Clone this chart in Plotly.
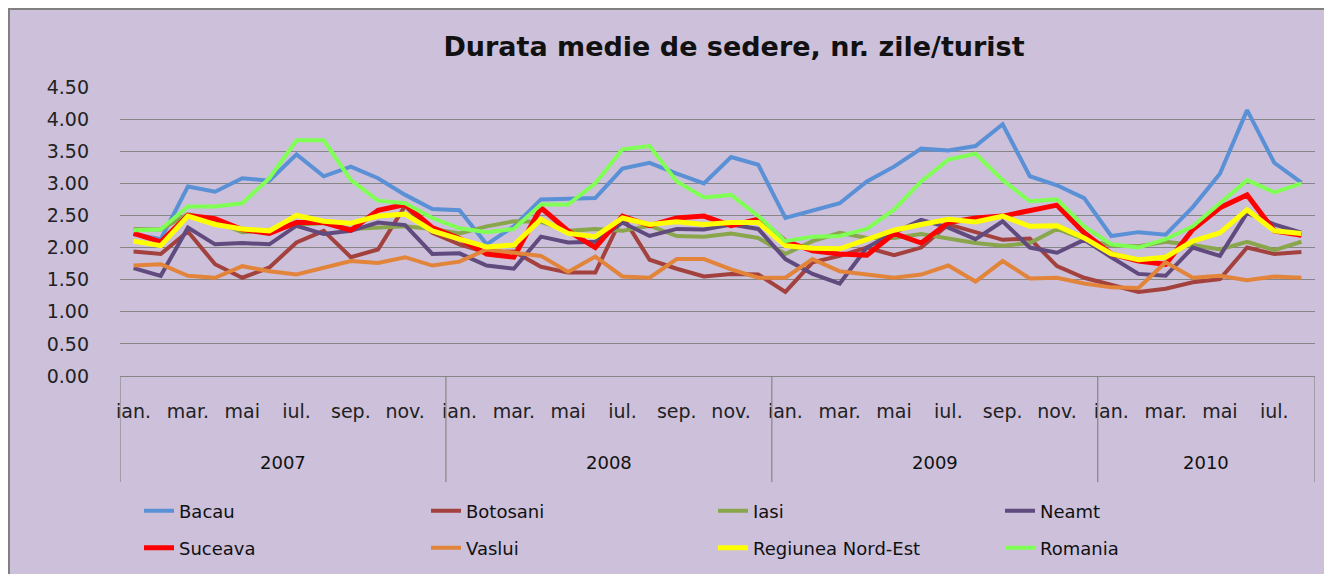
import plotly.graph_objects as go

# ---- data ----
month_names = ["ian.", "feb.", "mar.", "apr.", "mai", "iun.", "iul.", "aug.",
               "sep.", "oct.", "nov.", "dec."]
years = ["2007", "2008", "2009", "2010"]
months_per_year = [12, 12, 12, 8]

bacau = [2.21, 2.13, 2.95, 2.87, 3.08, 3.04, 3.45, 3.11, 3.26, 3.08, 2.82, 2.60,
         2.58, 2.05, 2.33, 2.75, 2.76, 2.77, 3.23, 3.32, 3.15, 3.00, 3.41, 3.29,
         2.46, 2.58, 2.69, 3.03, 3.26, 3.54, 3.51, 3.58, 3.92, 3.11, 2.97, 2.77,
         2.18, 2.24, 2.20, 2.63, 3.15, 4.14, 3.32, 3.01]
botosani = [1.94, 1.90, 2.25, 1.74, 1.53, 1.69, 2.08, 2.26, 1.85, 1.97, 2.65, 2.23,
            2.05, 1.92, 1.94, 1.70, 1.61, 1.61, 2.49, 1.81, 1.67, 1.55, 1.59, 1.58,
            1.31, 1.77, 1.87, 2.00, 1.88, 2.00, 2.36, 2.24, 2.12, 2.14, 1.71, 1.53,
            1.42, 1.31, 1.36, 1.46, 1.51, 2.00, 1.90, 1.93]
iasi = [2.29, 2.28, 2.52, 2.41, 2.24, 2.27, 2.36, 2.38, 2.29, 2.31, 2.33, 2.29,
        2.22, 2.33, 2.41, 2.40, 2.26, 2.29, 2.26, 2.34, 2.18, 2.17, 2.22, 2.15,
        1.90, 2.10, 2.23, 2.15, 2.15, 2.21, 2.14, 2.07, 2.03, 2.07, 2.29, 2.13,
        2.03, 2.02, 2.09, 2.04, 1.97, 2.09, 1.96, 2.09]
neamt = [1.68, 1.56, 2.31, 2.05, 2.07, 2.05, 2.34, 2.21, 2.26, 2.39, 2.35, 1.90,
         1.91, 1.72, 1.67, 2.17, 2.08, 2.09, 2.39, 2.18, 2.29, 2.28, 2.36, 2.29,
         1.82, 1.59, 1.44, 2.00, 2.23, 2.43, 2.31, 2.13, 2.41, 2.00, 1.92, 2.12,
         1.85, 1.59, 1.56, 2.00, 1.87, 2.54, 2.36, 2.23]
suceava = [2.22, 2.09, 2.50, 2.45, 2.28, 2.22, 2.39, 2.39, 2.27, 2.58, 2.67, 2.31,
           2.14, 1.90, 1.85, 2.62, 2.26, 2.00, 2.49, 2.34, 2.46, 2.49, 2.34, 2.44,
           2.10, 1.95, 1.90, 1.88, 2.22, 2.07, 2.39, 2.46, 2.49, 2.58, 2.66, 2.23,
           1.90, 1.79, 1.74, 2.28, 2.62, 2.82, 2.26, 2.19]
vaslui = [1.72, 1.74, 1.56, 1.53, 1.71, 1.63, 1.58, 1.69, 1.79, 1.76, 1.85, 1.72,
          1.78, 1.97, 1.92, 1.87, 1.62, 1.86, 1.55, 1.53, 1.82, 1.82, 1.66, 1.53,
          1.53, 1.82, 1.63, 1.58, 1.53, 1.58, 1.72, 1.47, 1.79, 1.52, 1.53, 1.44,
          1.38, 1.37, 1.77, 1.53, 1.56, 1.49, 1.55, 1.53]
regiunea = [2.10, 2.03, 2.49, 2.36, 2.29, 2.26, 2.50, 2.41, 2.38, 2.49, 2.52, 2.26,
            2.13, 2.01, 2.04, 2.44, 2.22, 2.17, 2.46, 2.36, 2.40, 2.36, 2.39, 2.39,
            2.03, 1.99, 1.98, 2.13, 2.27, 2.36, 2.44, 2.40, 2.49, 2.33, 2.34, 2.15,
            1.90, 1.81, 1.85, 2.10, 2.23, 2.59, 2.26, 2.22]
romania = [2.27, 2.28, 2.64, 2.64, 2.69, 3.08, 3.67, 3.67, 3.05, 2.73, 2.69, 2.46,
           2.30, 2.24, 2.29, 2.67, 2.67, 3.00, 3.53, 3.58, 3.03, 2.78, 2.82, 2.49,
           2.10, 2.17, 2.18, 2.29, 2.59, 3.03, 3.37, 3.46, 3.05, 2.72, 2.75, 2.33,
           2.05, 2.00, 2.13, 2.33, 2.69, 3.05, 2.86, 3.00]

series_names = ["Bacau", "Botosani", "Iasi", "Neamt", "Suceava", "Vaslui",
                "Regiunea Nord-Est", "Romania"]
series_values = [bacau, botosani, iasi, neamt, suceava, vaslui, regiunea, romania]
series_colors = ["#5A90D6", "#A2413D", "#8AA64C", "#604A7E", "#FF0000", "#E2843A",
                 "#FFFF00", "#80FF55"]
series_widths = [4, 4, 4, 4, 5, 4, 5, 4]

# ---- categories ----
month_labels = []
year_of_point = []
for yr, n in zip(years, months_per_year):
    for m in month_names[:n]:
        month_labels.append(m)
        year_of_point.append(yr)
x = list(range(len(month_labels)))
tickvals = [i for i in x if i % 2 == 0]
ticktext = [month_labels[i] for i in tickvals]

FONT = "DejaVu Sans"
GRID = "#868686"
TXT = "#111111"
W, H = 1332, 574
OFF = 8  # page body margin in the browser

fig = go.Figure()
for k, (name, vals, col, w) in enumerate(zip(series_names, series_values,
                                             series_colors, series_widths)):
    fig.add_trace(go.Scatter(
        x=x, y=vals, mode="lines", name=name,
        line=dict(color=col, width=w),
        legend="legend" if k < 4 else "legend2",
        customdata=[[year_of_point[i], month_labels[i]] for i in x],
        hovertemplate="%{customdata[1]} %{customdata[0]}: %{y:.2f}<extra>" + name + "</extra>",
    ))

# year boundaries and labels
bounds = [-0.5]
for n in months_per_year:
    bounds.append(bounds[-1] + n)
shapes = [dict(type="rect", xref="paper", yref="paper",
               x0=-0.0929, x1=1.03, y0=-0.75, y1=1.2699,
               fillcolor="#CCC0DA", line=dict(color="#808080", width=2),
               layer="below")]
for b in bounds:
    shapes.append(dict(type="line", xref="x", yref="paper", x0=b, x1=b,
                       y0=0, y1=-0.367, line=dict(color=GRID, width=1.2)))
annotations = []
for yr, a, b in zip(years, bounds[:-1], bounds[1:]):
    annotations.append(dict(x=(a + b) / 2, y=-0.301, xref="x", yref="paper",
                            text=yr, showarrow=False, yanchor="middle",
                            font=dict(family=FONT, size=18, color=TXT)))

legend_common = dict(orientation="h", xref="container", yref="container",
                     x=(139 - OFF) / W, xanchor="left", yanchor="middle",
                     entrywidth=242, entrywidthmode="pixels",
                     bgcolor="rgba(0,0,0,0)",
                     font=dict(family=FONT, size=18, color=TXT))

fig.update_layout(
    width=W, height=H,
    margin=dict(l=120 - OFF, r=W - 1315 + OFF, t=87 - OFF, b=H - 376 + OFF,
                autoexpand=False),
    paper_bgcolor="white",
    plot_bgcolor="rgba(0,0,0,0)",
    title=dict(text="<b>Durata medie de sedere, nr. zile/turist</b>",
               x=(734 - OFF) / W, xanchor="center", y=1 - (47 - OFF) / H,
               yanchor="middle",
               font=dict(family=FONT, size=27, color=TXT)),
    shapes=shapes,
    annotations=annotations,
    legend=dict(y=1 - (511 - OFF) / H, **legend_common),
    legend2=dict(y=1 - (548 - OFF) / H, **legend_common),
    xaxis=dict(range=[-0.5, len(x) - 0.5], tickmode="array", tickvals=tickvals,
               ticktext=ticktext, showgrid=False, zeroline=False, automargin=False,
               showline=True, linecolor=GRID, linewidth=1.2, ticks="",
               ticklabelstandoff=18,
               tickfont=dict(family=FONT, size=19, color="#222222")),
    yaxis=dict(range=[0, 4.5], dtick=0.5, tickformat=".2f", showgrid=True,
               gridcolor=GRID, gridwidth=1.2, zeroline=False, showline=False,
               automargin=False, ticks="", ticklabelstandoff=30,
               tickfont=dict(family=FONT, size=19, color="#222222")),
)

fig.write_html("out.html")
